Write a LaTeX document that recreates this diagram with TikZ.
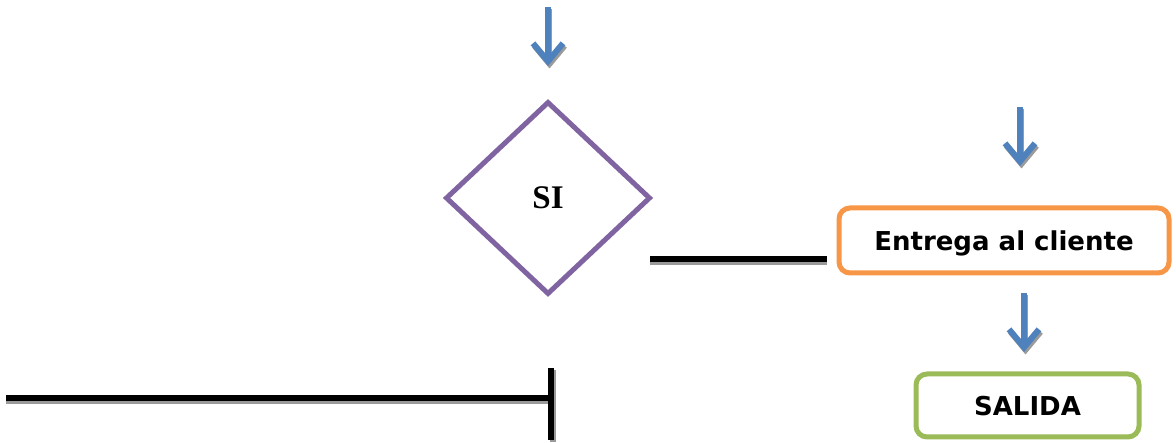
\documentclass[tikz,border=0pt]{standalone}
\usepackage{fontspec}
\usetikzlibrary{shapes.geometric,arrows.meta}
\newfontfamily\boxfont{DejaVu Sans}
\newfontfamily\seriffont{Liberation Serif}
\definecolor{flowblue}{HTML}{4F81BD}
\definecolor{flowpurple}{HTML}{8064A2}
\definecolor{floworange}{HTML}{F79646}
\definecolor{flowgreen}{HTML}{9BBB59}
\definecolor{shade}{HTML}{9A9A9A}
\tikzset{
  downarrow/.style={draw=flowblue, line width=5.5pt,
    -{Straight Barb[length=18pt,width=30pt,line width=6pt]}},
  arrowshade/.style={draw=shade, line width=5.5pt,
    -{Straight Barb[length=18pt,width=30pt,line width=6pt]}},
  barline/.style={draw=black, line width=6pt},
  barshade/.style={draw=shade, line width=6pt},
  decision/.style={diamond, draw=flowpurple, line width=5pt, inner sep=0pt,
    minimum width=205pt, minimum height=193pt,
    font=\seriffont\bfseries\fontsize{33}{38}\selectfont},
  stepbox/.style={rectangle, rounded corners=11pt, line width=5pt, inner sep=0pt,
    text depth=0pt, font=\boxfont\bfseries\fontsize{26}{30}\selectfont},
}
\begin{document}
\begin{tikzpicture}[x=1pt,y=-1pt]
\useasboundingbox (0,0) rectangle (1176,443);

% shapes
\node[decision] (si) at (548,198) {SI};
\node[stepbox, draw=floworange, minimum width=330pt, minimum height=65pt]
  (entrega) at (1004,240.5) {Entrega al cliente};
\node[stepbox, draw=flowgreen, minimum width=223pt, minimum height=63pt]
  (salida) at (1027.5,405.5) {SALIDA};

% free ends of the connectors
\coordinate (a1s) at (548,7);   \coordinate (a1e) at (548,66);
\coordinate (a2s) at (1020,107); \coordinate (a2e) at (1020,166);
\coordinate (a3s) at (1024,293); \coordinate (a3e) at (1024,352);
\coordinate (m1) at (650,259);  \coordinate (m2) at (827,259);
\coordinate (b1) at (6,398);    \coordinate (b2) at (551,398);
\coordinate (t1) at (551,368);  \coordinate (t2) at (551,440);

% drop shadows, offset down and to the right
\foreach \s/\e in {a1s/a1e,a2s/a2e,a3s/a3e}
  \draw[arrowshade] ([shift={(1.5,2.5)}]\s) -- ([shift={(1.5,2.5)}]\e);
\draw[barshade] ([shift={(0,3)}]m1) -- ([shift={(0,3)}]m2);
\draw[barshade] ([shift={(0,3)}]b1) -- ([shift={(0,3)}]b2);
\draw[barshade] ([shift={(1.5,2.5)}]t1) -- ([shift={(1.5,2.5)}]t2);

% arrows and bars
\draw[downarrow] (a1s) -- (a1e);
\draw[downarrow] (a2s) -- (a2e);
\draw[downarrow] (a3s) -- (a3e);
\draw[barline] (m1) -- (m2);
\draw[barline] (b1) -- (b2);
\draw[barline] (t1) -- (t2);
\end{tikzpicture}
\end{document}
